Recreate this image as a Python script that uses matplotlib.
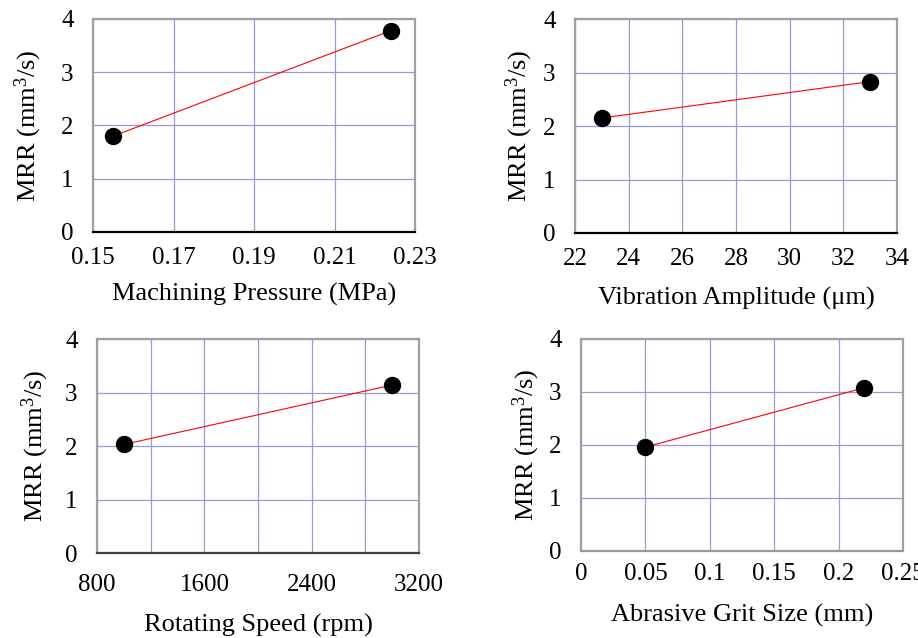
import matplotlib
matplotlib.use('Agg')
import matplotlib.pyplot as plt
import numpy as np

plt.rcParams['font.family'] = ['Liberation Serif', 'DejaVu Serif']
plt.rcParams['mathtext.fontset'] = 'custom'
plt.rcParams['mathtext.rm'] = 'Liberation Serif'
plt.rcParams['mathtext.it'] = 'Liberation Serif:italic'

# Data
pressure = [0.155, 0.224]
mrr_pressure = [1.80, 3.78]

amplitude = [23, 33]
mrr_amplitude = [2.15, 2.83]

speed = [1000, 3000]
mrr_speed = [2.03, 3.14]

grit = [0.05, 0.22]
mrr_grit = [1.96, 3.08]

# panel settings: x data, y data, label, limits, major ticks, grid ticks, tick labels,
# axes rect, bottom spine colour, (xtick pad, xlabel pad, ylabel pad)
panels = [
    (pressure, mrr_pressure, 'Machining Pressure (MPa)', (0.15, 0.23),
     [0.15, 0.17, 0.19, 0.21, 0.23], None,
     ['0.15', '0.17', '0.19', '0.21', '0.23'],
     [0.1013, 0.6364, 0.3508, 0.3339], 'black', (11, 10, 12)),
    (amplitude, mrr_amplitude, 'Vibration Amplitude (\u03bcm)', (22, 34),
     [22, 24, 26, 28, 30, 32, 34], None,
     ['22', '24', '26', '28', '30', '32', '34'],
     [0.6264, 0.6348, 0.3508, 0.3354], 'black', (11, 12, 6)),
    (speed, mrr_speed, 'Rotating Speed (rpm)', (800, 3200),
     [800, 1600, 2400, 3200], [1200, 2000, 2800],
     ['800', '1600', '2400', '3200'],
     [0.1057, 0.1332, 0.3508, 0.3354], '#404040', (15, 13, 10)),
    (grit, mrr_grit, 'Abrasive Grit Size (mm)', (0, 0.25),
     [0, 0.05, 0.1, 0.15, 0.2, 0.25], None,
     ['0', '0.05', '0.1', '0.15', '0.2', '0.25'],
     [0.6329, 0.1364, 0.3508, 0.3323], '#999999', (9, 13, 5)),
]

fig = plt.figure(figsize=(9.18, 6.38), dpi=100)

for x, y, xlabel, xlim, xticks, minor, xticklabels, rect, bcol, pads in panels:
    ax = fig.add_axes(rect)
    ax.plot(x, y, color='red', linewidth=0.8, marker='o', markersize=11.5,
            markerfacecolor='black', markeredgecolor='black', zorder=3)
    ax.set_xlim(*xlim)
    ax.set_ylim(0, 4)
    ax.set_xticks(xticks)
    ax.set_xticklabels(xticklabels)
    if minor is not None:
        ax.set_xticks(minor, minor=True)
    ax.set_yticks([0, 1, 2, 3, 4])
    ax.grid(True, which='both', color='#9a9ad0', linewidth=0.9)
    ax.set_axisbelow(True)
    ax.tick_params(axis='both', which='both', length=0, labelsize=18)
    ax.tick_params(axis='x', pad=pads[0])
    ax.tick_params(axis='y', pad=14)
    for side in ['left', 'top', 'right']:
        ax.spines[side].set_color('#a0a0a0')
        ax.spines[side].set_linewidth(1.6)
    ax.spines['bottom'].set_color(bcol)
    ax.spines['bottom'].set_linewidth(1.6)
    ax.set_xlabel(xlabel, fontsize=19, labelpad=pads[1])
    ax.set_ylabel('MRR (mm$^3$/s)', fontsize=19, labelpad=pads[2])

plt.savefig('out.png', dpi=100)
